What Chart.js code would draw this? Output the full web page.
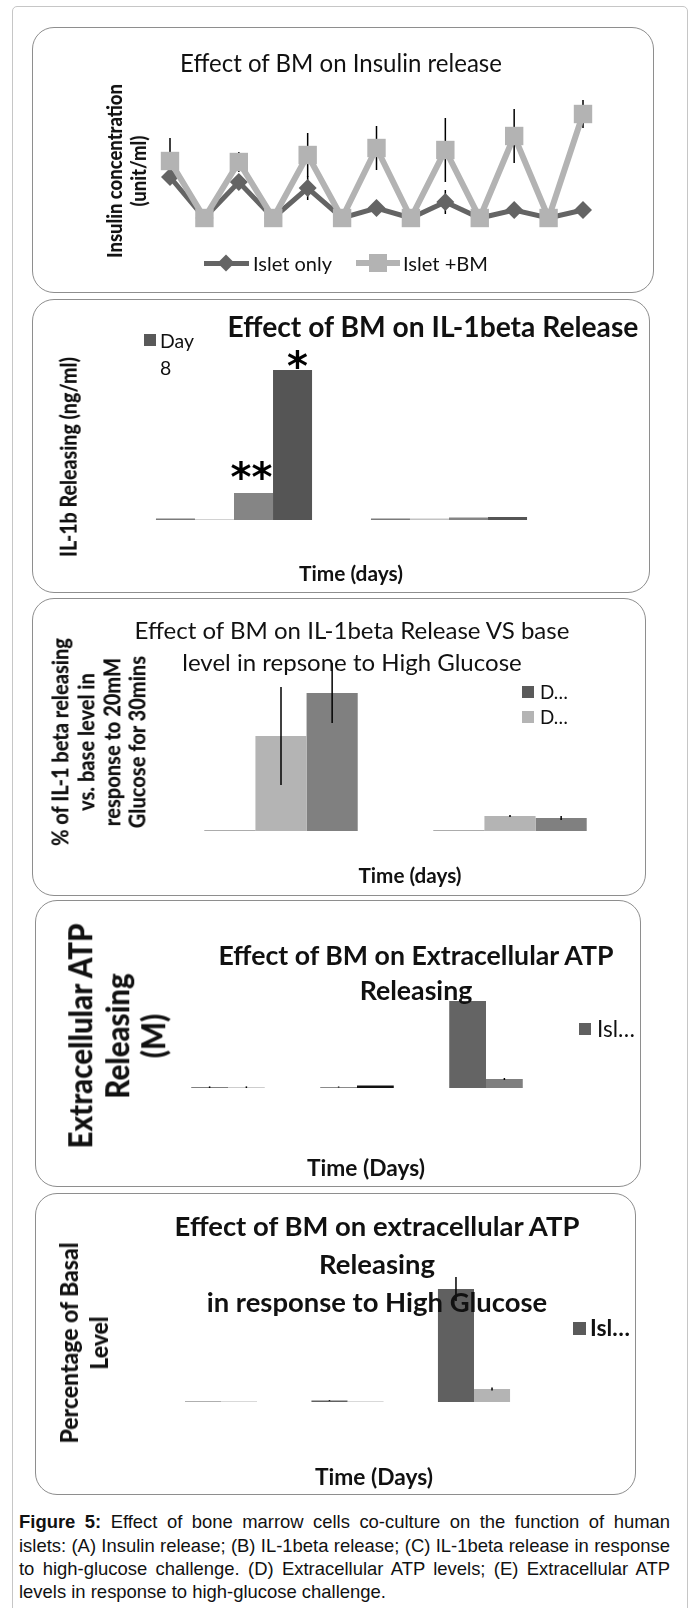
<!DOCTYPE html>
<html>
<head>
<meta charset="utf-8">
<script src="https://cdn.jsdelivr.net/npm/chart.js@4.4.1/dist/chart.umd.min.js"></script>
<style>
html, body { margin: 0; padding: 0; background: #fff; }
body { position: relative; width: 692px; height: 1608px; overflow: hidden; }
.frame { position: absolute; left: 12px; top: 6px; width: 676px; height: 1640px; border: 1.5px solid #c6c6c6; border-radius: 5px; box-sizing: border-box; }
.panel { position: absolute; border: 1.5px solid #8e8e8e; border-radius: 22px; box-sizing: border-box; }
canvas { position: absolute; }
.t { position: absolute; white-space: nowrap; color: #111; font-family: Lato, "Open Sans", sans-serif; }
.sw { position: absolute; }
.cap { position: absolute; left: 19px; width: 651px; color: #111; font-family: "Liberation Sans Narrow", "Liberation Sans", Arial, sans-serif; }
</style>
</head>
<body>
<div class="frame"></div>

<script>
// ---- data (arbitrary units = px height) ----
// A: insulin release, 13 time points
const timePoints = ['1', '2', '3', '4', '5', '6', '7', '8', '9', '10', '11', '12', '13'];
const isletOnly = [41, 0, 36, 0, 30, 0, 10, 0, 16, 0, 8, 0, 8];
const isletBM = [57, 0, 56, 0, 63, 0, 70, 0, 68, 0, 82, 0, 104];
const isletOnlyErr = [0, 0, 0, 0, 12, 0, 0, 0, 12, 0, 0, 0, 0];
const isletBMErr = [23, 0, 10, 0, 22, 0, 22, 0, 32, 0, 27, 0, 14];

// B: IL-1beta release
const il1Groups = ['Islet only', 'Islet +BM'];
const il1Series = ['Series 1', 'Series 2', 'Series 3', 'Day 8'];
const il1Values = [
  [1.5, 1.5],
  [0.8, 1.5],
  [27, 2.5],
  [150, 3]
];

// C: IL-1beta vs base level, high glucose
const hgGroups = ['Islet only', 'Islet +BM'];
const hgSeries = ['D\u2026', 'D\u2026', 'D\u2026'];
const hgValues = [
  [0.6, 0.6],
  [95, 15],
  [138, 13]
];
const hgErr = [
  [0, 0],
  [49, 1],
  [30, 2]
];

// D: extracellular ATP
const atpGroups = ['Day 1', 'Day 2', 'Day 3'];
const atpSeries = ['Isl\u2026', 'Islet +BM'];
const atpValues = [
  [0.8, 1, 87],
  [0.8, 2.5, 9]
];
const atpErr = [
  [0.8, 0.5, 0],
  [0.8, 0, 1]
];

// E: extracellular ATP, % of basal, high glucose
const basalGroups = ['Day 1', 'Day 2', 'Day 3'];
const basalSeries = ['Isl\u2026', 'Islet +BM'];
const basalValues = [
  [0.6, 1.5, 113],
  [0.6, 0.6, 13]
];
const basalErr = [
  [0, 0.4, 12],
  [0, 0, 1.5]
];

// ---- helpers ----
function panel(r) {
  const d = document.createElement('div');
  d.className = 'panel';
  d.style.left = r[0] + 'px'; d.style.top = r[1] + 'px';
  d.style.width = r[2] + 'px'; d.style.height = r[3] + 'px';
  document.body.appendChild(d);
  const c = document.createElement('canvas');
  c.width = r[2]; c.height = r[3];
  c.style.left = r[0] + 'px'; c.style.top = r[1] + 'px';
  document.body.appendChild(c);
  return c;
}

// text block fitted to a measured width; cx < 1 narrows it like Calibri
function txt(lines, o) {
  const d = document.createElement('div');
  d.className = 't';
  d.style.fontWeight = o.wt || (o.b ? 700 : 400);
  d.style.fontSize = '20px';
  d.style.textAlign = o.left != null ? 'left' : 'center';
  d.innerHTML = [].concat(lines).map(s => '<div>' + s + '</div>').join('');
  document.body.appendChild(d);
  const cx = o.cx || 1;
  const fs = 20 * o.w / d.getBoundingClientRect().width / cx;
  d.style.fontSize = fs.toFixed(2) + 'px';
  d.style.lineHeight = (o.lh || fs * 1.2) + 'px';
  d.style.top = o.y + 'px';
  const sx = cx !== 1 ? ' scaleX(' + cx + ')' : '';
  if (o.left != null) {
    d.style.left = o.left + 'px';
    d.style.transformOrigin = 'left center';
    d.style.transform = 'translate(0,-50%)' + sx;
  } else {
    d.style.left = o.x + 'px';
    d.style.transform = 'translate(-50%,-50%)' + (o.rot ? ' rotate(-90deg)' : '') + sx;
  }
  return fs;
}

function swatch(x, y, w, h, color, rot) {
  const d = document.createElement('div');
  d.className = 'sw';
  d.style.left = (x - w / 2) + 'px'; d.style.top = (y - h / 2) + 'px';
  d.style.width = w + 'px'; d.style.height = h + 'px';
  d.style.background = color;
  if (rot) d.style.transform = 'rotate(45deg)';
  document.body.appendChild(d);
}

function drawErr(chart, opts) {
  const ctx = chart.ctx, y = chart.scales.y;
  ctx.save();
  ctx.strokeStyle = '#000';
  ctx.lineWidth = opts.width || 1.5;
  opts.errors.forEach((errs, i) => {
    const meta = chart.getDatasetMeta(i);
    const vals = chart.data.datasets[i].data;
    errs.forEach((e, j) => {
      if (!e) return;
      const x = meta.data[j].x;
      ctx.beginPath();
      ctx.moveTo(x, y.getPixelForValue(vals[j] + e));
      ctx.lineTo(x, y.getPixelForValue(Math.max(vals[j] - e, 0)));
      ctx.stroke();
    });
  });
  ctx.restore();
}

const errPlugin = {
  id: 'errbars',
  beforeDatasetsDraw(chart, args, opts) { if (opts.errors && opts.under) drawErr(chart, opts); },
  afterDatasetsDraw(chart, args, opts) { if (opts.errors && !opts.under) drawErr(chart, opts); }
};

// significance marks above bars
const starPlugin = {
  id: 'stars',
  afterDatasetsDraw(chart, args, opts) {
    if (!opts.marks) return;
    const ctx = chart.ctx;
    ctx.save();
    ctx.fillStyle = '#000';
    ctx.font = opts.font;
    ctx.textAlign = 'center';
    opts.marks.forEach(m => {
      const el = chart.getDatasetMeta(m.ds).data[m.idx];
      const mt = ctx.measureText(m.text);
      const cy = el.y - m.dy;
      const base = cy - (mt.actualBoundingBoxDescent - mt.actualBoundingBoxAscent) / 2;
      ctx.fillText(m.text, el.x + m.dx, base);
    });
    ctx.restore();
  }
};

function barChart(canvas, labels, names, values, colors, o) {
  return new Chart(canvas, {
    type: 'bar',
    data: {
      labels: labels,
      datasets: values.map((v, i) => ({
        label: names[i],
        data: v,
        backgroundColor: colors[i],
        borderWidth: 0,
        barPercentage: 1,
        categoryPercentage: o.cat
      }))
    },
    options: {
      responsive: false,
      animation: false,
      events: [],
      layout: { padding: o.pad },
      plugins: {
        legend: { display: false },
        tooltip: { enabled: false },
        errbars: { errors: o.errors },
        stars: o.stars || {}
      },
      scales: {
        x: { display: false },
        y: { display: false, min: 0, max: o.max }
      }
    },
    plugins: [errPlugin, starPlugin]
  });
}

// ---- A: insulin release ----
const cA = panel([32, 27, 622, 266]);
new Chart(cA, {
  type: 'line',
  data: {
    labels: timePoints,
    datasets: [
      {
        label: 'Islet only', data: isletOnly, order: 2, clip: false,
        borderColor: '#646464', borderWidth: 5, tension: 0,
        pointStyle: 'rectRot', pointRadius: 9, pointBorderWidth: 0,
        pointBackgroundColor: '#646464'
      },
      {
        label: 'Islet +BM', data: isletBM, order: 1, clip: false,
        borderColor: '#b3b3b3', borderWidth: 6, tension: 0,
        pointStyle: 'rect', pointRadius: 13, pointBorderWidth: 0,
        pointBackgroundColor: '#b3b3b3'
      }
    ]
  },
  options: {
    responsive: false,
    animation: false,
    events: [],
    layout: { padding: { left: 138, right: 71, top: 87, bottom: 75 } },
    plugins: {
      legend: { display: false },
      tooltip: { enabled: false },
      errbars: { errors: [isletOnlyErr, isletBMErr], under: true }
    },
    scales: {
      x: { display: false },
      y: { display: false, min: 0, max: 104 }
    }
  },
  plugins: [errPlugin]
});
txt('Effect of BM on Insulin release', { x: 341, y: 63, w: 322 });
txt(['Insulin concentration', '(unit/ml)'], { x: 126, y: 171, w: 174, lh: 24, b: true, wt: 900, rot: true, cx: 0.88 });
swatch(226.5, 263, 45, 5, '#646464');
swatch(226, 263, 12, 12, '#646464', true);
txt('Islet only', { left: 253, y: 263, w: 79 });
swatch(378, 263, 44, 6, '#b3b3b3');
swatch(378, 263, 18, 18, '#b3b3b3');
txt('Islet +BM', { left: 403, y: 263, w: 85 });

// ---- B: IL-1beta release ----
const cB = panel([32, 299, 618, 294]);
barChart(cB, il1Groups, il1Series, il1Values,
  ['#7b7b7b', '#c3c3c3', '#858585', '#555555'],
  {
    cat: 0.726, max: 150,
    pad: { left: 94.5, right: 93.5, top: 71, bottom: 73 },
    stars: {
      font: 'bold 40px "DejaVu Sans"',
      marks: [{ ds: 2, idx: 0, text: '**', dx: -2, dy: 23 }, { ds: 3, idx: 0, text: '*', dx: 5, dy: 11 }]
    }
  });
txt('Effect of BM on IL-1beta Release', { x: 433, y: 327, w: 411, b: true });
swatch(150, 340, 12, 12, '#595959');
txt(['Day', '8'], { left: 160, y: 353.5, w: 34, lh: 27 });
txt('IL-1b Releasing (ng/ml)', { x: 69, y: 457, w: 200, b: true, wt: 900, rot: true, cx: 0.88 });
txt('Time (days)', { x: 351, y: 573, w: 104, b: true });

// ---- C: IL-1beta vs base level ----
const cC = panel([32, 598, 614, 298]);
barChart(cC, hgGroups, hgSeries, hgValues,
  ['#5a5a5a', '#b4b4b4', '#808080'],
  { cat: 0.67, max: 138, errors: hgErr, pad: { left: 134.5, right: 21.5, top: 95, bottom: 65 } });
txt(['Effect of BM on IL-1beta Release VS base', 'level in repsone to High Glucose'], { x: 352, y: 646, w: 435, lh: 32 });
swatch(528, 692, 12, 12, '#5a5a5a');
txt(hgSeries[0], { left: 540, y: 692, w: 28 });
swatch(528, 717, 12, 12, '#b4b4b4');
txt(hgSeries[1], { left: 540, y: 717, w: 28 });
txt(['% of IL-1 beta releasing', 'vs. base level in', 'response to 20mM', 'Glucose for 30mins'],
  { x: 99, y: 742, w: 208, lh: 25.8, b: true, wt: 900, rot: true, cx: 0.88 });
txt('Time (days)', { x: 410, y: 875, w: 103, b: true });

// ---- D: extracellular ATP ----
const cD = panel([35, 900, 606, 287]);
barChart(cD, atpGroups, atpSeries, atpValues,
  [['#555555', '#8a8a8a', '#646464'], ['#bdbdbd', '#111111', '#7f7f7f']],
  { cat: 0.57, max: 87, errors: atpErr, pad: { left: 128.5, right: 90.5, top: 101, bottom: 99 } });
txt(['Effect of BM on Extracellular ATP', 'Releasing'], { x: 416, y: 972.5, w: 395, lh: 35, b: true });
swatch(585, 1029, 12, 12, '#606060');
txt(atpSeries[0], { left: 597, y: 1029, w: 38 });
txt(['Extracellular ATP', 'Releasing', '(M)'], { x: 116.5, y: 1036, w: 225, lh: 36.5, b: true, wt: 900, rot: true, cx: 0.9 });
txt('Time (Days)', { x: 366, y: 1168, w: 118, b: true });

// ---- E: extracellular ATP, % basal ----
const cE = panel([35, 1193, 601, 302]);
barChart(cE, basalGroups, basalSeries, basalValues,
  ['#606060', '#b4b4b4'],
  { cat: 0.57, max: 113, errors: basalErr, pad: { left: 122.75, right: 98.75, top: 96, bottom: 93 } });
txt(['Effect of BM on extracellular ATP', 'Releasing', 'in response to High Glucose'],
  { x: 377, y: 1264, w: 405, lh: 38, b: true });
swatch(579, 1328, 13, 13, '#5a5a5a');
txt(basalSeries[0], { left: 590, y: 1328, w: 40, b: true });
txt(['Percentage of Basal', 'Level'], { x: 83, y: 1343, w: 201, lh: 30, b: true, wt: 900, rot: true, cx: 0.9 });
txt('Time (Days)', { x: 374, y: 1477, w: 118, b: true });

// ---- caption ----
const capLines = [
  '<b>Figure 5:</b> Effect of bone marrow cells co-culture on the function of human',
  'islets: (A) Insulin release; (B) IL-1beta release; (C) IL-1beta release in response',
  'to high-glucose challenge. (D) Extracellular ATP levels; (E) Extracellular ATP',
  'levels in response to high-glucose challenge.'
];
const capY = [1522, 1546, 1569, 1592];
let widest = 0;
capLines.forEach(s => {
  const m = document.createElement('span');
  m.className = 'cap';
  m.style.fontSize = '20px';
  m.style.whiteSpace = 'nowrap';
  m.style.width = 'auto';
  m.innerHTML = s;
  document.body.appendChild(m);
  widest = Math.max(widest, m.getBoundingClientRect().width);
  m.remove();
});
const capFs = 20 * 649 / widest;
capLines.forEach((s, i) => {
  const d = document.createElement('div');
  d.className = 'cap';
  d.style.fontSize = capFs.toFixed(2) + 'px';
  d.style.lineHeight = '22px';
  d.style.top = (capY[i] - 11) + 'px';
  d.style.textAlign = 'justify';
  d.style.textAlignLast = i < capLines.length - 1 ? 'justify' : 'left';
  d.innerHTML = s;
  document.body.appendChild(d);
});
</script>
</body>
</html>
